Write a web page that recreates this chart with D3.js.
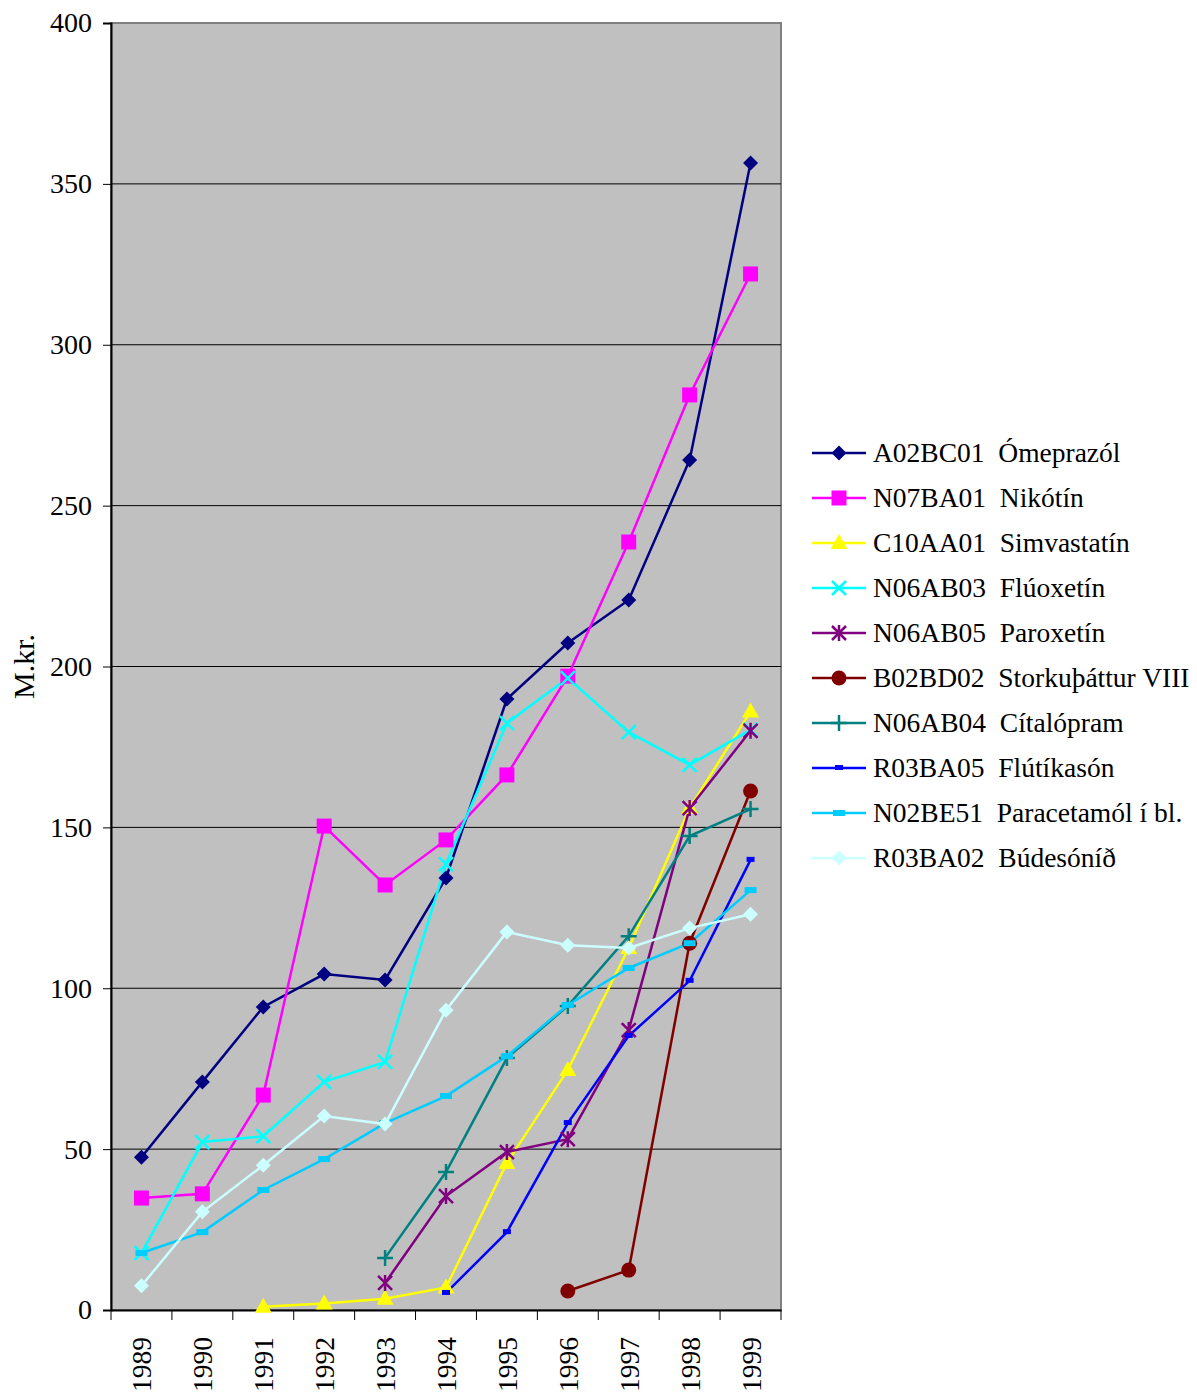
<!DOCTYPE html>
<html>
<head>
<meta charset="utf-8">
<script src="https://cdn.jsdelivr.net/npm/d3@7"></script>
<style>
body { margin: 0; background: #fff; }
svg text { font-family: "Liberation Serif", "Times New Roman", Tinos, "DejaVu Serif", serif !important; fill: #000; }
</style>
</head>
<body>
<div class="chart"></div>
<script>
// years on the x axis
var years = ["1989", "1990", "1991", "1992", "1993", "1994", "1995", "1996", "1997", "1998", "1999"];
var yTicks = [0, 50, 100, 150, 200, 250, 300, 350, 400];

// series values (M.kr.), null where no value
var omeprazol   = [47.5, 70.9, 94.2, 104.4, 102.6, 134.3, 189.9, 207.3, 220.7, 264.2, 356.5];
var nikotin     = [34.8, 36.1, 66.8, 150.4, 132.1, 146.1, 166.3, 197.0, 238.7, 284.4, 322.0];
var simvastatin = [null, null, 1.0, 2.0, 3.5, 7.0, 45.7, 74.6, 112.5, 156.0, 186.0];
var fluoxetin   = [17.7, 52.2, 54.0, 70.9, 77.1, 138.6, 182.4, 196.4, 179.6, 169.4, 180.3];
var paroxetin   = [null, null, null, null, 8.4, 35.4, 49.1, 53.1, 87.0, 156.0, 180.0];
var storku      = [null, null, null, null, null, null, null, 5.9, 12.4, 114.0, 161.3];
var citalopram  = [null, null, null, null, 16.2, 42.9, 78.3, 94.5, 116.2, 147.3, 155.7];
var flutikason  = [null, null, null, null, null, 5.3, 24.2, 58.1, 85.2, 102.3, 139.9];
var paracetamol = [17.7, 24.2, 37.3, 46.9, 58.1, 66.5, 78.9, 94.8, 106.3, 114.0, 130.5];
var budesonid   = [7.5, 30.5, 45.0, 60.3, 57.8, 93.2, 117.5, 113.4, 112.5, 118.7, 123.0];

var codes = ["A02BC01", "N07BA01", "C10AA01", "N06AB03", "N06AB05", "B02BD02", "N06AB04", "R03BA05", "N02BE51", "R03BA02"];
var names = ["Ómeprazól", "Nikótín", "Simvastatín", "Flúoxetín", "Paroxetín", "Storkuþáttur VIII", "Cítalópram", "Flútíkasón", "Paracetamól í bl.", "Búdesóníð"];
var values = [omeprazol, nikotin, simvastatin, fluoxetin, paroxetin, storku, citalopram, flutikason, paracetamol, budesonid];

var colors = ["#000080", "#ff00ff", "#ffff00", "#00ffff", "#800080", "#800000", "#008080", "#0000ff", "#00ccff", "#ccffff"];
var markers = ["diamond", "square", "triangle", "x", "star", "circle", "plus", "smallbar", "bar", "diamond"];

var svgWidth = 1197;
var svgHeight = 1399;
var margin = { top: 23, right: 416, bottom: 89, left: 111 };
var width = svgWidth - margin.left - margin.right;
var height = svgHeight - margin.top - margin.bottom;

var svg = d3.select(".chart")
    .append("svg")
    .attr("width", svgWidth)
    .attr("height", svgHeight);

var chart = svg.append("g")
    .attr("transform", "translate(" + margin.left + "," + margin.top + ")");

var xScale = d3.scaleBand().domain(years).range([0, width]);
var yScale = d3.scaleLinear().domain([0, 400]).range([height, 0]);

// plot background
chart.append("rect")
    .attr("width", width)
    .attr("height", height)
    .attr("fill", "#c0c0c0")
    .attr("stroke", "#808080")
    .attr("stroke-width", 2);

// gridlines
chart.selectAll(".grid")
    .data(yTicks.slice(1, -1))
    .enter().append("line")
    .attr("x1", 0)
    .attr("x2", width)
    .attr("y1", function(d) { return yScale(d); })
    .attr("y2", function(d) { return yScale(d); })
    .attr("stroke", "#000")
    .attr("stroke-width", 1);

// y axis
var leftAxis = d3.axisLeft(yScale).tickValues(yTicks).tickSize(8).tickPadding(11);
var yAxis = chart.append("g").call(leftAxis).attr("font-family", null).attr("font-size", null);
yAxis.select(".domain").attr("stroke", "#000").attr("stroke-width", 2);
yAxis.selectAll("text").style("font-size", "28px");

// x axis, ticks between categories
var bottomAxis = d3.axisBottom(xScale).tickSize(0).tickPadding(0);
var xAxis = chart.append("g")
    .attr("transform", "translate(0," + height + ")")
    .call(bottomAxis)
    .attr("font-family", null).attr("font-size", null);
xAxis.select(".domain").attr("stroke", "#000").attr("stroke-width", 2);
xAxis.selectAll("text")
    .style("font-size", "27.5px")
    .attr("text-anchor", "end")
    .attr("dy", null)
    .attr("y", 0)
    .attr("transform", "translate(10,27) rotate(-90)");

xAxis.selectAll(".sep")
    .data(years.concat(["end"]))
    .enter().append("line")
    .attr("x1", function(d, i) { return i * xScale.bandwidth(); })
    .attr("x2", function(d, i) { return i * xScale.bandwidth(); })
    .attr("y1", 0)
    .attr("y2", 10)
    .attr("stroke", "#000")
    .attr("stroke-width", 1);

// y axis title
svg.append("text")
    .attr("transform", "translate(34," + (margin.top + height / 2) + ") rotate(-90)")
    .attr("text-anchor", "middle")
    .style("font-size", "30px")
    .text("M.kr.");

function drawMarker(g, type, color) {
    if (type === "diamond") {
        g.append("path").attr("d", "M0,-7.5L7.5,0L0,7.5L-7.5,0Z").attr("fill", color);
    } else if (type === "square") {
        g.append("rect").attr("x", -7.5).attr("y", -7.5).attr("width", 15).attr("height", 15).attr("fill", color);
    } else if (type === "triangle") {
        g.append("path").attr("d", "M0,-9L8.5,6L-8.5,6Z").attr("fill", color);
    } else if (type === "x") {
        g.append("path").attr("d", "M-7,-7L7,7M-7,7L7,-7").attr("stroke", color).attr("stroke-width", 2.5);
    } else if (type === "star") {
        g.append("path").attr("d", "M-7,-7L7,7M-7,7L7,-7M0,-8L0,8").attr("stroke", color).attr("stroke-width", 2.5);
    } else if (type === "circle") {
        g.append("circle").attr("r", 7.5).attr("fill", color);
    } else if (type === "plus") {
        g.append("path").attr("d", "M-8,0L8,0M0,-8L0,8").attr("stroke", color).attr("stroke-width", 2.5);
    } else if (type === "smallbar") {
        g.append("rect").attr("x", -4).attr("y", -3).attr("width", 8).attr("height", 5).attr("fill", color);
    } else if (type === "bar") {
        g.append("rect").attr("x", -6).attr("y", -3).attr("width", 12).attr("height", 6).attr("fill", color);
    }
}

var line = d3.line()
    .defined(function(d) { return d.v !== null; })
    .x(function(d) { return xScale(d.year) + xScale.bandwidth() / 2; })
    .y(function(d) { return yScale(d.v); });

values.forEach(function(series, s) {
    var pts = series.map(function(v, i) { return { year: years[i], v: v }; });
    chart.append("path")
        .datum(pts)
        .attr("fill", "none")
        .attr("stroke", colors[s])
        .attr("stroke-width", 2.5)
        .attr("d", line);
});

values.forEach(function(series, s) {
    series.forEach(function(v, i) {
        if (v === null) return;
        var g = chart.append("g")
            .attr("transform", "translate(" + (xScale(years[i]) + xScale.bandwidth() / 2) + "," + yScale(v) + ")");
        drawMarker(g, markers[s], colors[s]);
    });
});

// legend
var legend = svg.append("g").attr("transform", "translate(812,453)");
codes.forEach(function(code, i) {
    var row = legend.append("g").attr("transform", "translate(0," + (i * 45) + ")");
    row.append("line")
        .attr("x1", 0).attr("x2", 54)
        .attr("stroke", colors[i]).attr("stroke-width", 2.5);
    drawMarker(row.append("g").attr("transform", "translate(27,0)"), markers[i], colors[i]);
    row.append("text")
        .attr("x", 61)
        .attr("y", 9)
        .style("font-size", "27.5px")
        .style("white-space", "pre")
        .text(code + "  " + names[i]);
});
</script>
</body>
</html>
